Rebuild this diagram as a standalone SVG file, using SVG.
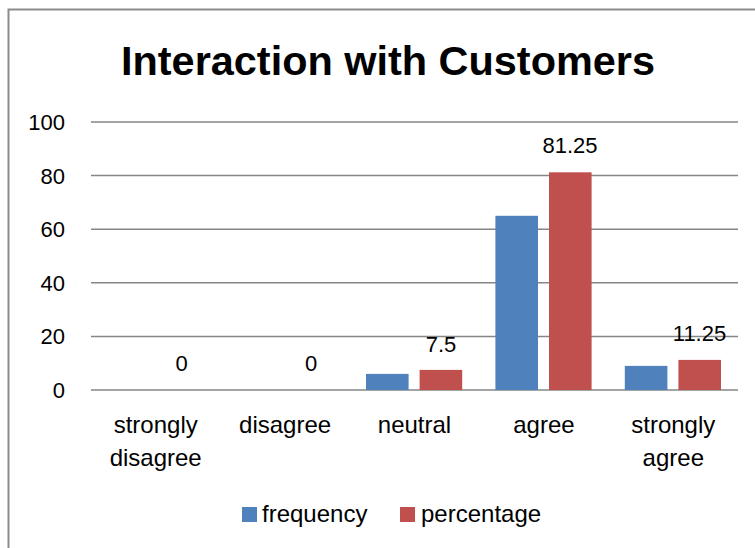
<svg xmlns="http://www.w3.org/2000/svg" width="755" height="548" viewBox="0 0 755 548">
<style>
.t{font-family:"Liberation Sans",Arial,sans-serif;font-size:22px;fill:#000}
.w{font-size:24px}
.grid{stroke:#868686;stroke-width:1.5}
.b{fill:#4F81BD}
.r{fill:#C0504D}
.m{text-anchor:middle}
.e{text-anchor:end}
</style>
<rect x="0" y="0" width="755" height="548" fill="#fff"/>
<g id="frame"><path d="M8.5 548 V9.5 H755" fill="none" stroke="#8c8c8c" stroke-width="2"/></g>
<g id="title"><text x="388" y="75" class="t m" style="font-size:41px;font-weight:bold" textLength="534" lengthAdjust="spacingAndGlyphs">Interaction with Customers</text></g>
<g id="gridlines">
<line class="grid" x1="91" y1="122" x2="738" y2="122"/>
<line class="grid" x1="91" y1="175.6" x2="738" y2="175.6"/>
<line class="grid" x1="91" y1="229.2" x2="738" y2="229.2"/>
<line class="grid" x1="91" y1="282.8" x2="738" y2="282.8"/>
<line class="grid" x1="91" y1="336.4" x2="738" y2="336.4"/>
<line class="grid" x1="91" y1="390" x2="738" y2="390"/>
</g>
<g id="y-axis">
<text class="t e" x="65" y="130">100</text>
<text class="t e" x="65" y="183.6">80</text>
<text class="t e" x="65" y="237.2">60</text>
<text class="t e" x="65" y="290.8">40</text>
<text class="t e" x="65" y="344.4">20</text>
<text class="t e" x="65" y="398">0</text>
</g>
<g id="bars">
<rect class="b" x="366" y="373.9" width="42.6" height="16.1"/>
<rect class="r" x="419.6" y="369.9" width="42.6" height="20.1"/>
<rect class="b" x="495.4" y="215.8" width="42.6" height="174.2"/>
<rect class="r" x="549" y="172.3" width="42.6" height="217.7"/>
<rect class="b" x="624.8" y="365.9" width="42.6" height="24.1"/>
<rect class="r" x="678.4" y="359.9" width="42.6" height="30.1"/>
</g>
<g id="data-labels">
<text class="t m" x="181.5" y="371">0</text>
<text class="t m" x="311" y="371">0</text>
<text class="t m" x="441" y="352">7.5</text>
<text class="t m" x="570" y="153">81.25</text>
<text class="t m" x="699.5" y="341">11.25</text>
</g>
<g id="categories">
<text class="t w m" x="155.7" y="433">strongly</text>
<text class="t w m" x="155.7" y="466">disagree</text>
<text class="t w m" x="285.1" y="433">disagree</text>
<text class="t w m" x="414.5" y="433">neutral</text>
<text class="t w m" x="543.9" y="433">agree</text>
<text class="t w m" x="673.3" y="433">strongly</text>
<text class="t w m" x="673.3" y="466">agree</text>
</g>
<g id="legend">
<rect class="b" x="242" y="507" width="15" height="15"/>
<text class="t w" x="262" y="522">frequency</text>
<rect class="r" x="400" y="507" width="15" height="15"/>
<text class="t w" x="421" y="522">percentage</text>
</g>
</svg>
